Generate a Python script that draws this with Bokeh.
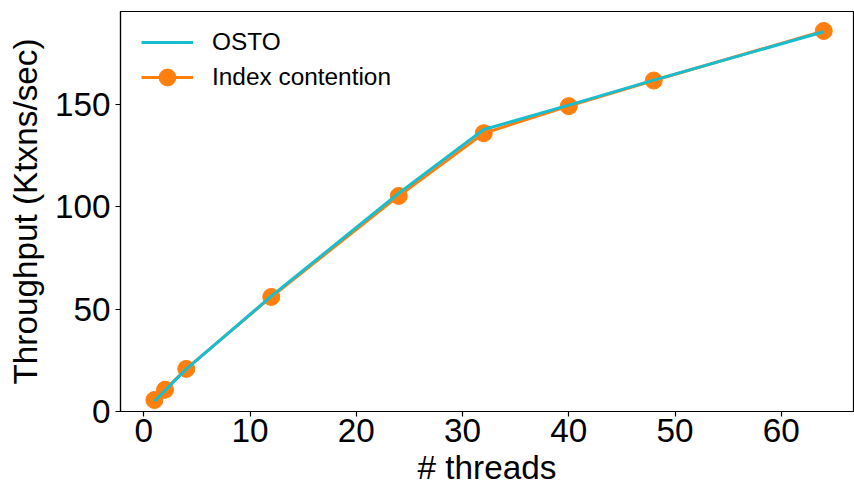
from bokeh.plotting import figure
from bokeh.models import Range1d, FixedTicker, Legend, LegendItem
from bokeh.embed import file_html
from bokeh.resources import INLINE

# Throughput vs. number of worker threads
threads = [1, 2, 4, 12, 24, 32, 40, 48, 64]
osto = [5.0, 10.3, 20.7, 56.3, 106.5, 137.6, 149.5, 161.7, 185.3]
index_contention = [5.6, 10.6, 20.8, 55.9, 105.2, 135.8, 149.0, 161.5, 185.7]

x_ticks = [0, 10, 20, 30, 40, 50, 60]
y_ticks = [0, 50, 100, 150]

FONT = "Liberation Sans"
CYAN = "#17becf"
ORANGE = "#ff7f0e"
BIG = "33.3px"
LEGEND_FONT = "24.4px"

p = figure(width=854, height=489, output_backend="svg", toolbar_location=None,
           x_range=Range1d(-2.19, 66.8), y_range=Range1d(0, 195.2),
           min_border_left=120, min_border_right=1, min_border_top=11,
           min_border_bottom=78)

p.xgrid.visible = False
p.ygrid.visible = False
p.outline_line_color = "black"
p.outline_line_width = 1.2
p.background_fill_color = "white"
p.border_fill_color = "white"

for ax in (p.xaxis[0], p.yaxis[0]):
    ax.axis_line_color = "black"
    ax.axis_line_width = 1.2
    ax.major_tick_line_color = "black"
    ax.major_tick_line_width = 1.2
    ax.major_tick_out = 5
    ax.major_tick_in = 0
    ax.minor_tick_line_color = None
    ax.major_label_text_font = FONT
    ax.major_label_text_font_size = BIG
    ax.major_label_text_color = "black"
    ax.axis_label_text_font = FONT
    ax.axis_label_text_font_size = BIG
    ax.axis_label_text_font_style = "normal"
    ax.axis_label_text_color = "black"

p.xaxis.ticker = FixedTicker(ticks=x_ticks)
p.yaxis.ticker = FixedTicker(ticks=y_ticks)
p.xaxis.axis_label = "# threads"
p.yaxis.axis_label = "Throughput (Ktxns/sec)"
p.xaxis.major_label_standoff = 2
p.yaxis.major_label_standoff = 5
p.xaxis.axis_label_standoff = 4
p.yaxis.axis_label_standoff = 8

# Index contention: orange line with round markers
r_idx_line = p.line(threads, index_contention, line_color=ORANGE, line_width=3)
r_idx_pts = p.scatter(threads, index_contention, size=17, marker="circle",
                      fill_color=ORANGE, line_color=ORANGE)
# OSTO: cyan line on top
r_osto = p.line(threads, osto, line_color=CYAN, line_width=3)


def make_legend(items, loc, glyph_h):
    lg = Legend(items=items, location=loc)
    lg.border_line_color = None
    lg.background_fill_alpha = 0
    lg.label_text_font = FONT
    lg.label_text_font_size = LEGEND_FONT
    lg.label_text_color = "black"
    lg.glyph_width = 52
    lg.glyph_height = glyph_h
    lg.label_height = 30
    lg.label_standoff = 19
    lg.spacing = 0
    lg.padding = 0
    lg.margin = 0
    return lg


p.add_layout(make_legend([LegendItem(label="OSTO", renderers=[r_osto])],
                         (21, 354), 30), "center")
p.add_layout(make_legend([LegendItem(label="Index contention",
                                     renderers=[r_idx_line, r_idx_pts])],
                         (21, 313), 42), "center")

open("out.html", "w").write(file_html(p, INLINE))
